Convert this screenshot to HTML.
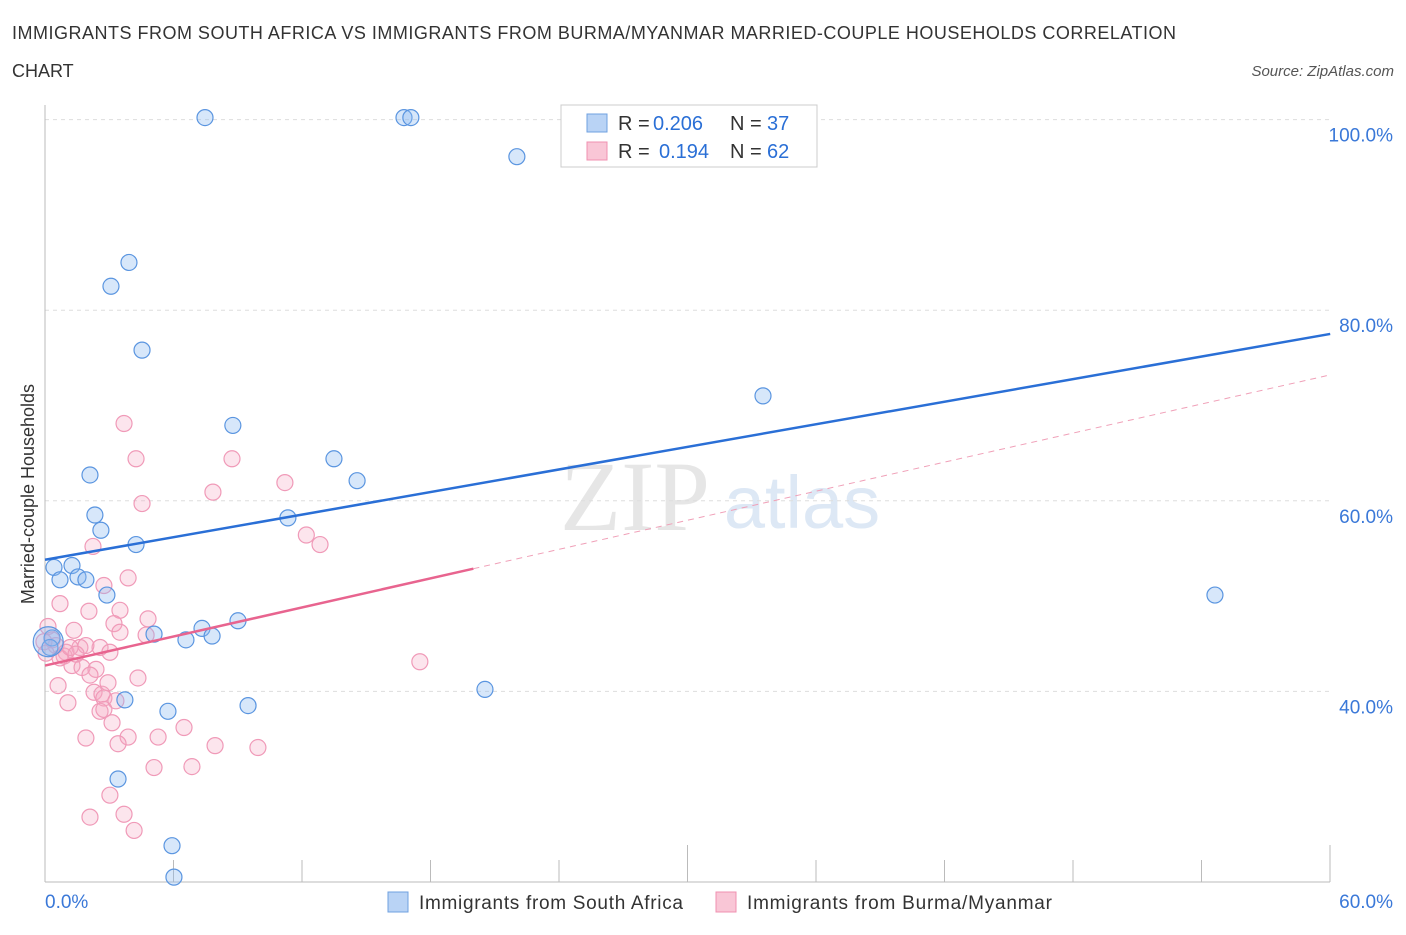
<!DOCTYPE html>
<html><head><meta charset="utf-8"><style>
body{margin:0;background:#fff;font-family:"Liberation Sans",sans-serif;}
</style></head><body>
<svg id="c" width="1406" height="930" xmlns="http://www.w3.org/2000/svg">
<text x="12" y="39" font-size="18" fill="#333" textLength="1164">IMMIGRANTS FROM SOUTH AFRICA VS IMMIGRANTS FROM BURMA/MYANMAR MARRIED-COUPLE HOUSEHOLDS CORRELATION</text>
<text x="12" y="77" font-size="18" fill="#333">CHART</text>
<text x="1394" y="76" font-size="15" fill="#555" font-style="italic" text-anchor="end">Source: ZipAtlas.com</text>
<text x="635" y="530" font-size="100" fill="#e6e6e6" font-family="Liberation Serif" text-anchor="middle">ZIP</text>
<text x="802" y="528" font-size="74" fill="#dde8f5" text-anchor="middle">atlas</text>
<g id="grid"></g><g id="axes"></g><g id="pts"></g><g id="lines"></g>
<g>
<rect x="561" y="105" width="256" height="62" fill="#fff" stroke="#ccc"/>
<rect x="587" y="114" width="20" height="18" fill="#b9d3f5" stroke="#6fa0e0"/>
<rect x="587" y="142" width="20" height="18" fill="#f9c6d6" stroke="#f090b0"/>
<text x="618" y="130" font-size="20" fill="#333">R = </text><text x="653" y="130" font-size="20" fill="#2a6fd6">0.206</text>
<text x="730" y="130" font-size="20" fill="#333">N = </text><text x="767" y="130" font-size="20" fill="#2a6fd6">37</text>
<text x="618" y="158" font-size="20" fill="#333">R = </text><text x="659" y="158" font-size="20" fill="#2a6fd6">0.194</text>
<text x="730" y="158" font-size="20" fill="#333">N = </text><text x="767" y="158" font-size="20" fill="#2a6fd6">62</text>
</g>
<g>
<rect x="388" y="892" width="20" height="20" fill="#b9d3f5" stroke="#6fa0e0"/>
<text x="419" y="909" font-size="19" fill="#333" textLength="264">Immigrants from South Africa</text>
<rect x="716" y="892" width="20" height="20" fill="#f9c6d6" stroke="#f090b0"/>
<text x="747" y="909" font-size="19" fill="#333" textLength="305">Immigrants from Burma/Myanmar</text>
</g>
</svg>
<script>
const yTicks=[40,60,80,100];
const xTickLabels=["0.0%","60.0%"];
const blueX=[7.47,16.76,17.08,22.03,3.92,3.08,4.53,8.77,33.52,2.1,13.49,14.57,2.33,2.61,11.34,4.25,0.42,1.26,0.7,1.54,1.91,2.89,54.62,5.09,6.58,7.33,7.8,9.01,0.33,0.23,3.73,5.74,9.48,20.54,3.41,5.93,6.02];
const blueY=[100,100,100,95.9,84.8,82.3,75.6,67.7,70.8,62.5,64.2,61.9,58.3,56.7,58,55.2,52.8,53,51.5,51.8,51.5,49.9,49.9,45.8,45.2,46.4,45.6,47.2,45.4,44.4,38.9,37.7,38.3,40,30.6,23.6,20.3];
const pinkX=[3.69,4.25,8.73,7.84,11.2,4.53,2.24,12.2,12.84,3.88,2.75,0.7,2.05,3.5,4.81,3.22,1.35,0.14,3.5,4.72,0.33,0.51,-0.05,0.98,1.63,2.57,1.91,3.03,0.89,1.26,1.73,2.38,4.34,2.1,0.61,2.29,2.66,2.75,1.07,3.31,2.57,2.75,3.13,6.49,3.88,1.91,3.41,5.28,7.94,9.94,5.09,6.86,17.5,3.03,3.69,4.16,2.1,0.7,1.17,0.05,2.94,1.45];
const pinkY=[67.9,64.2,64.2,60.7,61.7,59.5,55,56.2,55.2,51.7,50.9,49,48.2,48.3,47.4,46.9,46.2,46.6,46,45.7,45.2,44.6,45,43.9,44.4,44.4,44.6,43.9,43.5,42.5,42.3,42.1,41.2,41.5,40.4,39.7,39.5,39.1,38.6,38.8,37.7,37.9,36.5,36,35,34.9,34.3,35,34.1,33.9,31.8,31.9,42.9,28.9,26.9,25.2,26.6,43.3,44.4,43.8,40.7,43.7];
const blueLine=[53.6,77.3];
const pinkLine=[42.5,73];
const pinkSolidEnd=20;
const NS='http://www.w3.org/2000/svg';
const X=v=>45+v*21.42, Y=v=>880-(v-20)*9.53;
const G=v=>882-(v-20)*9.53;
function mk(t,a,p){const e=document.createElementNS(NS,t);for(const k in a)e.setAttribute(k,a[k]);document.getElementById(p).appendChild(e);return e;}
yTicks.forEach((t,i)=>{
 const l=mk('line',{x1:45,x2:1330,y1:G(t),y2:G(t),stroke:'#ddd','stroke-dasharray':'4,4'},'grid');
 
 
 const tx=mk('text',{x:1393,y:G(t)+22,'font-size':19,fill:'#3a78d8','text-anchor':'end'},'axes');
 tx.textContent=t.toFixed(1)+'%';
 
 
});
const ax=mk('line',{x1:45,x2:45,y1:105,y2:882,stroke:'#bbb'},'axes');


const bx=mk('line',{x1:45,x2:1330,y1:882,y2:882,stroke:'#bbb'},'axes');


for(let i=0;i<=10;i++){const xx=45+i*128.5;const tk=mk('line',{x1:xx,x2:xx,y1:i%5==0?845:860,y2:882,stroke:'#bbb'},'axes');
 
 }
[[45,'start',0],[1393,'end',1]].forEach(([x,a,i])=>{const t=mk('text',{x:x,y:908,'font-size':19,fill:'#3a78d8','text-anchor':a},'axes');t.textContent=xTickLabels[i];
 
 });
const yt=mk('text',{x:34,y:494,'font-size':18,fill:'#333','text-anchor':'middle',transform:'rotate(-90 34 494)'},'axes');
yt.textContent='Married-couple Households';


pinkX.forEach((v,i)=>{const c=mk('circle',{cx:X(v),cy:Y(pinkY[i]),r:8,fill:'rgba(245,170,195,0.3)',stroke:'#f09ab8','stroke-width':1.2},'pts');
 
 });
blueX.forEach((v,i)=>{const c=mk('circle',{cx:X(v),cy:Y(blueY[i]),r:8,fill:'rgba(140,185,240,0.35)',stroke:'#5a95e0','stroke-width':1.2},'pts');
 
 });
const big=mk('circle',{cx:X(0.15),cy:Y(45),r:15,fill:'rgba(140,185,240,0.35)',stroke:'#5a95e0','stroke-width':1.2},'pts');


const bl=mk('line',{x1:X(0),y1:Y(blueLine[0]),x2:X(60),y2:Y(blueLine[1]),stroke:'#2a6fd6','stroke-width':2.5},'lines');


const pAt=x=>pinkLine[0]+(pinkLine[1]-pinkLine[0])*x/60;
const pl=mk('line',{x1:X(0),y1:Y(pinkLine[0]),x2:X(pinkSolidEnd),y2:Y(pAt(pinkSolidEnd)),stroke:'#e8648f','stroke-width':2.5},'lines');


const pd=mk('line',{x1:X(pinkSolidEnd),y1:Y(pAt(pinkSolidEnd)),x2:X(60),y2:Y(pinkLine[1]),stroke:'#f0a0b8','stroke-width':1,'stroke-dasharray':'6,5'},'lines');


</script>
</body></html>
